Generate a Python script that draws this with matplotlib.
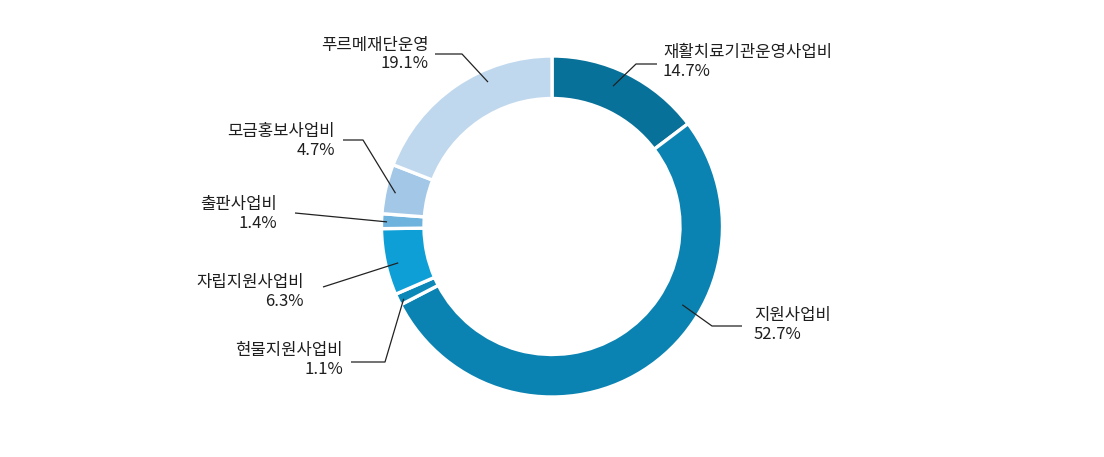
import numpy as np
import matplotlib
matplotlib.use("Agg")
import matplotlib.pyplot as plt

plt.rcParams['font.family'] = ['Noto Sans CJK KR', 'DejaVu Sans']

# ---- data ----
categories = ['재활치료기관운영사업비', '지원사업비', '현물지원사업비', '자립지원사업비',
              '출판사업비', '모금홍보사업비', '푸르메재단운영']
values = [14.7, 52.7, 1.1, 6.3, 1.4, 4.7, 19.1]
colors = ['#08719a', '#0a83b2', '#0b88b8', '#0f9fd7', '#6db3de', '#a3c8e7', '#c0d8ed']

# ---- layout (pixel space, y downward) ----
W, H = 1104, 457
cx, cy = 552, 226.5
R_out, ring = 170.5, 42.5

# leader anchor (polar: angle deg, radius px), elbow point, text anchor
anchor_polar = [(66.5, 153), (-31, 152), (206, 165), (193.3, 158), (178.4, 165), (168, 160), (113.9, 158)]
elbows = [(636, 64), (712, 326), (385, 362), None, None, (363, 140), (462, 54)]
line_ends = [(657, 64), (742, 326), (351, 362), (323, 287), (295, 213), (343, 140), (435, 54)]
text_pos = [(663, 62), (754, 325), (343, 360), (304, 292), (277, 214), (335, 141), (429, 54.5)]
text_ha = ['left', 'left', 'right', 'right', 'right', 'right', 'right']

fig = plt.figure(figsize=(W / 100, H / 100), dpi=100)
ax = fig.add_axes([0, 0, 1, 1])

def Y(y):
    return H - y

ax.pie(values, colors=colors, startangle=90, counterclock=False,
       center=(cx, Y(cy)), radius=R_out,
       wedgeprops=dict(width=ring, edgecolor='white', linewidth=2.4))

for i, cat in enumerate(categories):
    ang, r = anchor_polar[i]
    sx = cx + r * np.cos(np.radians(ang))
    sy = cy - r * np.sin(np.radians(ang))
    pts = [(sx, sy)]
    if elbows[i] is not None:
        pts.append(elbows[i])
    pts.append(line_ends[i])
    xs = [p[0] for p in pts]
    ys = [Y(p[1]) for p in pts]
    ax.plot(xs, ys, color='#222222', linewidth=0.9, solid_capstyle='butt')
    tx, ty = text_pos[i]
    ax.text(tx, Y(ty), f"{cat}\n{values[i]:.1f}%", ha=text_ha[i], va='center',
            multialignment=text_ha[i], fontsize=12, color='#1e1e1e', linespacing=1.12)

ax.set_xlim(0, W)
ax.set_ylim(0, H)
ax.set_aspect('equal')
ax.set_axis_off()
fig.savefig('out.png', dpi=100, facecolor='white')
